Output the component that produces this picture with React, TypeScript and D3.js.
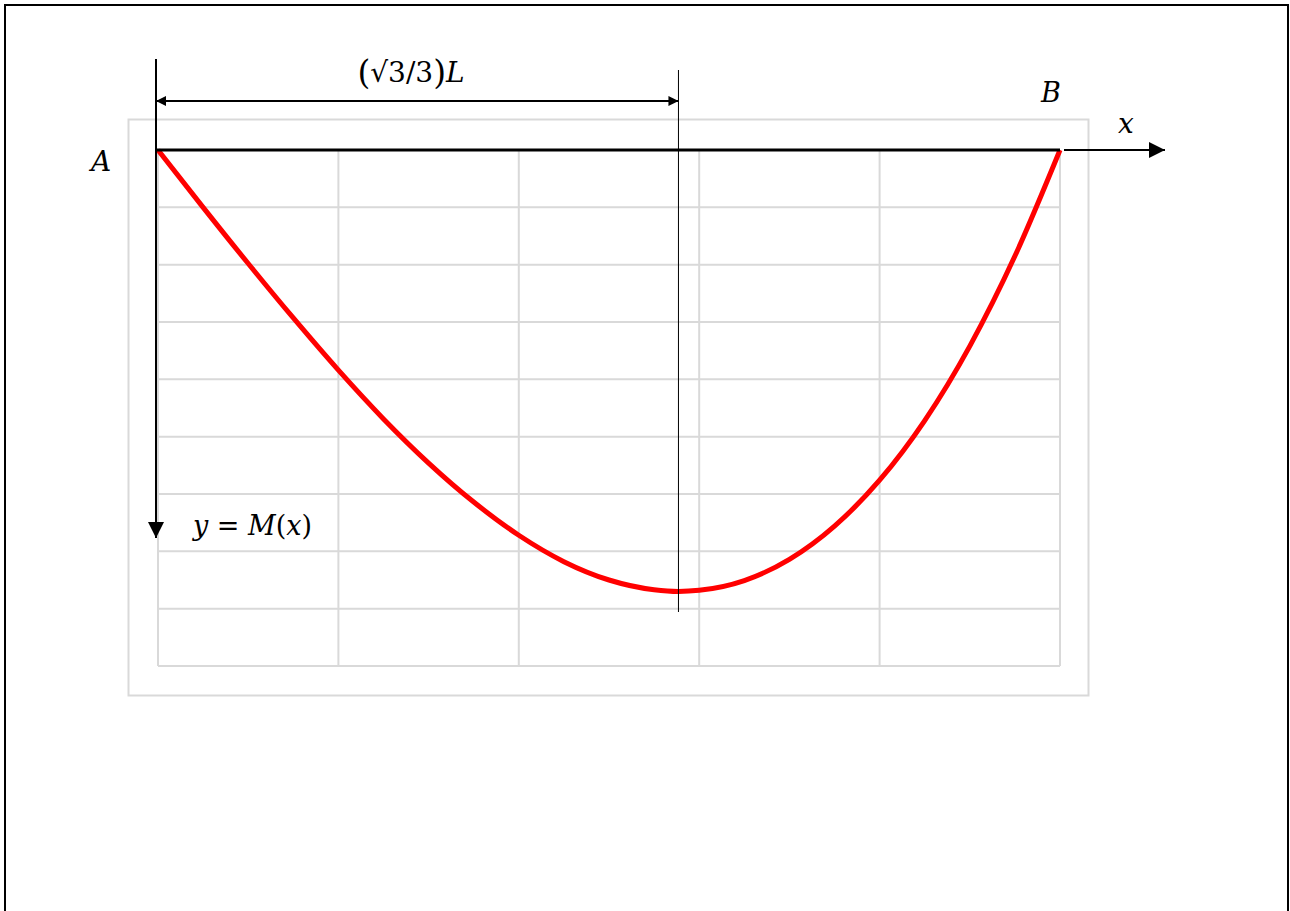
import React from "react";
import * as d3 from "d3";

// Position along the span, as a fraction of L
const spanPos = [0, 0.05, 0.1, 0.15, 0.2, 0.25, 0.3, 0.35, 0.4, 0.45, 0.5, 0.55, 0.577, 0.6, 0.65, 0.7, 0.75, 0.8, 0.85, 0.9, 0.95, 1];
// Bending moment, in grid units (drawn downward)
const moment = [0, 1.0, 1.98, 2.93, 3.84, 4.69, 5.46, 6.14, 6.72, 7.18, 7.5, 7.67, 7.7, 7.68, 7.51, 7.14, 6.56, 5.76, 4.72, 3.42, 1.85, 0];

const gridX = [0, 0.2, 0.4, 0.6, 0.8, 1];
const gridY = [0, 1, 2, 3, 4, 5, 6, 7, 8, 9];
const peakPos = 0.577;

const W = 1290;
const H = 911;

export default function App() {
  const x = d3.scaleLinear().domain([0, 1]).range([158, 1060]);
  const y = d3.scaleLinear().domain([0, 9]).range([150, 666]);

  const line = d3
    .line<number>()
    .x((_, i) => x(spanPos[i]))
    .y((d) => y(d))
    .curve(d3.curveMonotoneX);

  const mathFont = "'DejaVu Serif', 'Liberation Serif', serif";
  const grid = "#d9d9d9";
  const xPeak = x(peakPos);

  return (
    <svg
      width={W}
      height={H}
      style={{ position: "absolute", left: 0, top: 0, background: "#fff" }}
    >
      <defs>
        <marker id="arrowEnd" viewBox="0 0 10 10" refX="10" refY="5" markerWidth="10" markerHeight="10" markerUnits="userSpaceOnUse" orient="auto">
          <path d="M0,0 L10,5 L0,10 z" fill="#000" />
        </marker>
        <marker id="arrowStart" viewBox="0 0 10 10" refX="0" refY="5" markerWidth="10" markerHeight="10" markerUnits="userSpaceOnUse" orient="auto">
          <path d="M10,0 L0,5 L10,10 z" fill="#000" />
        </marker>
        <marker id="arrowBig" viewBox="0 0 16 16" refX="16" refY="8" markerWidth="16" markerHeight="16" markerUnits="userSpaceOnUse" orient="auto">
          <path d="M0,0 L16,8 L0,16 z" fill="#000" />
        </marker>
      </defs>

      {/* page frame */}
      <rect x={5} y={5} width={1283} height={920} fill="none" stroke="#000" strokeWidth={2} />

      {/* chart frame */}
      <rect x={128.5} y={119.5} width={960} height={576} fill="none" stroke={grid} strokeWidth={2} />

      {/* grid */}
      {gridX.map((g) => (
        <line key={"gx" + g} x1={x(g)} x2={x(g)} y1={y(0)} y2={y(9)} stroke={grid} strokeWidth={2} />
      ))}
      {gridY.map((g) => (
        <line key={"gy" + g} x1={x(0)} x2={x(1)} y1={y(g)} y2={y(g)} stroke={grid} strokeWidth={2} />
      ))}

      {/* moment curve */}
      <path d={line(moment) ?? ""} fill="none" stroke="#ff0000" strokeWidth={5} strokeLinejoin="round" />

      {/* beam */}
      <line x1={156} x2={x(1)} y1={y(0)} y2={y(0)} stroke="#000" strokeWidth={3} />

      {/* vertical axis (M) */}
      <line x1={156} x2={156} y1={59} y2={538} stroke="#000" strokeWidth={2} markerEnd="url(#arrowBig)" />

      {/* horizontal axis (x) */}
      <line x1={1064} x2={1165} y1={y(0)} y2={y(0)} stroke="#000" strokeWidth={2} markerEnd="url(#arrowBig)" />

      {/* location of maximum */}
      <line x1={xPeak} x2={xPeak} y1={70} y2={612} stroke="#000" strokeWidth={1} />

      {/* dimension line */}
      <line x1={156} x2={xPeak} y1={101} y2={101} stroke="#000" strokeWidth={2} markerStart="url(#arrowStart)" markerEnd="url(#arrowEnd)" />

      <text x={411} y={82} textAnchor="middle" fontFamily={mathFont} fontSize={28}>
        <tspan fontSize={33} dy={2}>(</tspan>
        <tspan dy={-2}>√3/3</tspan>
        <tspan fontSize={33} dy={2}>)</tspan>
        <tspan fontStyle="italic" dy={-2}>L</tspan>
      </text>

      <text x={101} y={171} textAnchor="middle" fontFamily={mathFont} fontStyle="italic" fontSize={28}>A</text>
      <text x={1051} y={102} textAnchor="middle" fontFamily={mathFont} fontStyle="italic" fontSize={27}>B</text>
      <text x={1126} y={133} textAnchor="middle" fontFamily={mathFont} fontStyle="italic" fontSize={28}>x</text>

      <text x={193} y={535} fontFamily={mathFont} fontSize={27}>
        <tspan fontStyle="italic">y</tspan>
        <tspan> = </tspan>
        <tspan fontStyle="italic">M</tspan>
        <tspan>(</tspan>
        <tspan fontStyle="italic">x</tspan>
        <tspan>)</tspan>
      </text>
    </svg>
  );
}
